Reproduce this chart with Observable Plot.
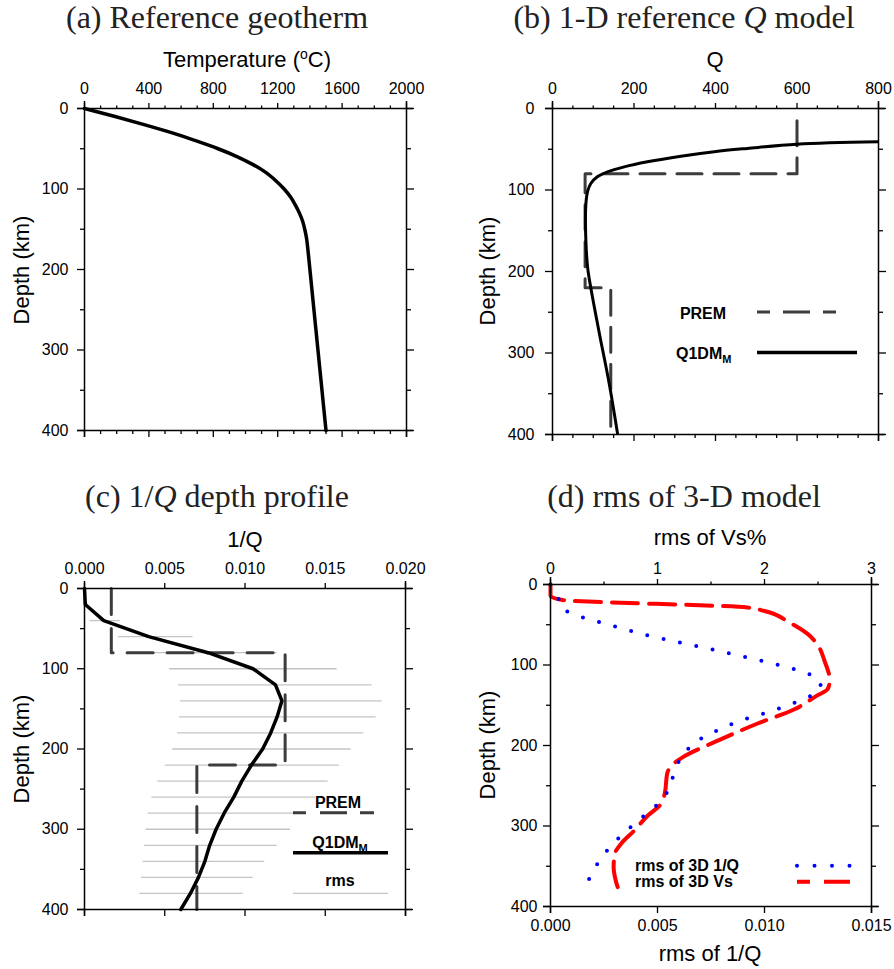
<!DOCTYPE html>
<html><head><meta charset="utf-8">
<script src="https://cdn.jsdelivr.net/npm/d3@7"></script>
<script src="https://cdn.jsdelivr.net/npm/@observablehq/plot@0.6"></script>
<style>
body{margin:0;background:#fff}
#root{position:relative;width:894px;height:969px;overflow:hidden;background:#fff}
#root svg.panel{position:absolute}
#overlay{position:absolute;left:0;top:0;pointer-events:none}
</style></head><body><div id="root"></div>
<script>
// ---------- DATA ----------
// (a) reference geotherm
const geoDepth = [0,10,20,30,40,50,60,70,80,90,100,110,120,130,140,150,160,180,200,250,300,350,400];
const geoTemp  = [0,190,370,540,690,830,950,1050,1130,1190,1240,1280,1310,1335,1355,1368,1378,1390,1400,1425,1450,1475,1500];

// (b) Q models
const q1dmDepth = [40.9,43.8,49,53,58.5,65.4,71.6,77.7,83.8,92,102,116.6,145,194,220,276,337,400];
const q1dmQ     = [800,600,478,397,315,233,176,135,110,94,86,82,81,86,94,115,139,160];
const premQDepth = [15,80,80,220,220,400];
const premQ      = [600,600,80,80,143,143];

// (c) 1/Q profile
const invDepth = [0,20,40,60,80,100,120,140,160,180,200,220,240,260,280,300,320,340,360,380,400];
const invQ     = [0,0.00005,0.0012,0.0040,0.0077,0.0105,0.0119,0.0123,0.0120,0.0116,0.0111,0.0104,0.0098,0.0093,0.0087,0.0082,0.0078,0.0075,0.0071,0.0066,0.0060];
const premInvDepth = [0,80,80,220,220,400];
const premInv      = [0.00167,0.00167,0.0125,0.0125,0.0070,0.0070];
const rmsDepth = [40,60,80,100,120,140,160,180,200,220,240,260,280,300,320,340,360,380];
const rmsLo = [0.00035,0.00212,0.0040,0.0053,0.00586,0.00597,0.00593,0.0058,0.0055,0.00503,0.00457,0.0042,0.00396,0.00384,0.00374,0.00365,0.00355,0.00345];
const rmsHi = [0.00222,0.00676,0.0120,0.01574,0.01792,0.01854,0.01817,0.0174,0.01661,0.01588,0.01518,0.0144,0.0134,0.01284,0.0120,0.01123,0.01051,0.00988];

// (d) rms of 3-D model
const rmsQDepth = [0,12,31,39,62,80,99,110,123,135,143,151,158,164,170,179,187,198,214,233,254,271,284,298,312,327,343,362,381];
const rmsQ      = [0,0.0003,0.00054,0.00127,0.00432,0.00743,0.01054,0.01203,0.01265,0.01247,0.01177,0.01102,0.01024,0.00951,0.00874,0.0080,0.00729,0.00665,0.00609,0.00578,0.00556,0.00511,0.00451,0.00389,0.0033,0.00275,0.00228,0.00187,0.00154];
const rmsVsDepth = [0,14,19,28.6,33,47,61,78,94.5,119,130,138,155,173,193,215,225,235,258,273,287,306,322,335,351,368,387];
const rmsVs      = [0,0,0.1,1.84,2.0,2.23,2.40,2.51,2.56,2.61,2.59,2.49,2.28,1.93,1.58,1.23,1.13,1.09,1.07,1.03,0.91,0.78,0.66,0.60,0.59,0.61,0.66];

// ticks
const depthTicks = [0,100,200,300,400];
const depthMinor = [50,150,250,350];
const tempTicks = [0,400,800,1200,1600,2000];
const qTicks = [0,200,400,600,800];
const invTicks = [0,0.005,0.010,0.015,0.020];
const vsTicks = [0,1,2,3];
const vsMinor = [0.5,1.5,2.5];
const rmsInvTicks = [0,0.005,0.010,0.015];
const VS_PER_INVQ = 200; // top axis (Vs %) vs bottom axis (1/Q)

// ---------- BUILD ----------
const zipPts = (ys, xs) => ys.map((d, i) => ({d, v: xs[i]}));
const root = document.getElementById("root");
const FONT = "'Liberation Sans', Arial, Helvetica, sans-serif";
const blank = () => "";

function frameRules(xDom, yDom) {
  return [
    Plot.ruleX(xDom, {stroke: "#000", strokeWidth: 1.5, insetTop: -7, insetBottom: -7}),
    Plot.ruleY(yDom, {stroke: "#000", strokeWidth: 1.5, insetLeft: -7, insetRight: -7})
  ];
}
function yAxes(pad) {
  return [
    Plot.axisY({anchor: "left", ticks: depthTicks, tickSize: 7, tickPadding: pad, tickFormat: d3.format("d"), label: null, fontSize: 16, strokeWidth: 1.3}),
    Plot.axisY({anchor: "left", ticks: depthMinor, tickSize: 4, tickFormat: blank, label: null, strokeWidth: 1.3}),
    Plot.axisY({anchor: "right", ticks: depthTicks, tickSize: 7, tickFormat: blank, label: null, strokeWidth: 1.3}),
    Plot.axisY({anchor: "right", ticks: depthMinor, tickSize: 4, tickFormat: blank, label: null, strokeWidth: 1.3})
  ];
}
function xAxes(major, minor, fmt, topPad) {
  const a = [
    Plot.axisX({anchor: "top", ticks: major, tickSize: 6, tickPadding: topPad, tickFormat: fmt, label: null, fontSize: 16, strokeWidth: 1.3}),
    Plot.axisX({anchor: "bottom", ticks: major, tickSize: 7, tickFormat: blank, label: null, strokeWidth: 1.3})
  ];
  if (minor && minor.length) {
    a.push(Plot.axisX({anchor: "top", ticks: minor, tickSize: 3.5, tickFormat: blank, label: null, strokeWidth: 1.3}));
    a.push(Plot.axisX({anchor: "bottom", ticks: minor, tickSize: 4, tickFormat: blank, label: null, strokeWidth: 1.3}));
  }
  return a;
}
function place(svg, left, top) {
  svg.classList.add("panel");
  svg.style.left = left + "px";
  svg.style.top = top + "px";
  svg.style.overflow = "visible";
  root.appendChild(svg);
}
const baseStyle = {fontFamily: FONT, fontSize: "16px", background: "transparent", color: "#000", overflow: "visible"};

// (a)
const tempMinor = d3.range(0, 2001, 100).filter(v => !tempTicks.includes(v));
place(Plot.plot({
  width: 447, height: 460, marginLeft: 84, marginRight: 41, marginTop: 108, marginBottom: 30,
  style: baseStyle,
  x: {domain: [0, 2000]}, y: {domain: [0, 400], reverse: true},
  marks: [
    Plot.line(zipPts(geoDepth, geoTemp), {x: "v", y: "d", stroke: "#000", strokeWidth: 3.5, curve: "monotone-y"}),
    ...frameRules([0, 2000], [0, 400]),
    ...yAxes(9),
    ...xAxes(tempTicks, tempMinor, d3.format("d"), 9)
  ]
}), 0, 0);

// (b)
const qMinor = d3.range(0, 801, 50).filter(v => !qTicks.includes(v));
place(Plot.plot({
  width: 447, height: 460, marginLeft: 105, marginRight: 16, marginTop: 108, marginBottom: 26,
  style: baseStyle,
  x: {domain: [0, 800]}, y: {domain: [0, 400], reverse: true},
  marks: [
    Plot.line(zipPts(premQDepth, premQ), {x: "v", y: "d", stroke: "#3c3c3c", strokeWidth: 3, strokeDasharray: "25,12"}),
    Plot.line(zipPts(q1dmDepth, q1dmQ), {x: "v", y: "d", stroke: "#000", strokeWidth: 3, curve: "catmull-rom", clip: true}),
    ...frameRules([0, 800], [0, 400]),
    ...yAxes(11),
    ...xAxes(qTicks, qMinor, d3.format("d"), 9)
  ]
}), 447, 0);

// (c)
const rmsBars = rmsDepth.map((d, i) => ({d, lo: rmsLo[i], hi: rmsHi[i]}));
place(Plot.plot({
  width: 447, height: 489, marginLeft: 84, marginRight: 42, marginTop: 108, marginBottom: 60,
  style: baseStyle,
  x: {domain: [0, 0.02]}, y: {domain: [0, 400], reverse: true},
  marks: [
    Plot.ruleY(rmsBars, {y: "d", x1: "lo", x2: "hi", stroke: "#c4c4c4", strokeWidth: 1.3}),
    Plot.line(zipPts(premInvDepth, premInv), {x: "v", y: "d", stroke: "#3c3c3c", strokeWidth: 3, strokeDasharray: "26,14"}),
    Plot.line(zipPts(invDepth, invQ), {x: "v", y: "d", stroke: "#000", strokeWidth: 3.5}),
    ...frameRules([0, 0.02], [0, 400]),
    ...yAxes(9),
    ...xAxes(invTicks, [], d3.format(".3f"), 9)
  ]
}), 0, 480);

// (d)
place(Plot.plot({
  width: 447, height: 489, marginLeft: 103, marginRight: 23, marginTop: 104, marginBottom: 63,
  style: baseStyle,
  x: {domain: [0, 0.015]}, y: {domain: [0, 400], reverse: true},
  marks: [
    Plot.line(zipPts(rmsVsDepth, rmsVs), {x: d => d.v / VS_PER_INVQ, y: "d", stroke: "#ff0000", strokeWidth: 4, strokeDasharray: "26,11", curve: "monotone-y"}),
    Plot.line(zipPts(rmsQDepth, rmsQ), {x: "v", y: "d", stroke: "#0000ff", strokeWidth: 4, strokeDasharray: "0,16.7", strokeLinecap: "round"}),
    ...frameRules([0, 0.015], [0, 400]),
    ...yAxes(6),
    Plot.axisX({anchor: "top", ticks: vsTicks.map(v => v / VS_PER_INVQ), tickSize: 6, tickPadding: 5, tickFormat: d => String(Math.round(d * VS_PER_INVQ)), label: null, fontSize: 16, strokeWidth: 1.3}),
    Plot.axisX({anchor: "top", ticks: vsMinor.map(v => v / VS_PER_INVQ), tickSize: 3.5, tickFormat: blank, label: null, strokeWidth: 1.3}),
    Plot.axisX({anchor: "bottom", ticks: rmsInvTicks, tickSize: 7, tickPadding: 6, tickFormat: d3.format(".3f"), label: null, fontSize: 16, strokeWidth: 1.3})
  ]
}), 447, 480);

// ---------- TITLES, LABELS, LEGENDS ----------
const SERIF = "'Liberation Serif','Times New Roman',serif";
root.insertAdjacentHTML("beforeend", `
<svg id="overlay" width="894" height="969" font-family="${FONT}">
  <g font-family="${SERIF}" font-size="32" fill="#222" text-anchor="middle">
    <text x="217" y="28">(a) Reference geotherm</text>
    <text x="684" y="28">(b) 1-D reference <tspan font-style="italic">Q</tspan> model</text>
    <text x="217" y="507">(c) 1/<tspan font-style="italic">Q</tspan> depth profile</text>
    <text x="684" y="507">(d) rms of 3-D model</text>
  </g>
  <g font-size="22" fill="#000" text-anchor="middle">
    <text x="247" y="67">Temperature (<tspan font-size="14" dy="-8">o</tspan><tspan dy="8">C)</tspan></text>
    <text x="715" y="67">Q</text>
    <text x="245" y="547">1/Q</text>
    <text x="710" y="545">rms of Vs%</text>
    <text x="710" y="961">rms of 1/Q</text>
    <text transform="translate(29,270) rotate(-90)">Depth (km)</text>
    <text transform="translate(495,271) rotate(-90)">Depth (km)</text>
    <text transform="translate(29,749) rotate(-90)">Depth (km)</text>
    <text transform="translate(495,745) rotate(-90)">Depth (km)</text>
  </g>
  <g font-size="16" font-weight="bold" fill="#000">
    <text x="703" y="319" text-anchor="middle">PREM</text>
    <text x="676" y="359">Q1DM<tspan font-size="11" dy="4">M</tspan></text>
    <text x="338" y="808" text-anchor="middle">PREM</text>
    <text x="340" y="848" text-anchor="middle">Q1DM<tspan font-size="11" dy="4">M</tspan></text>
    <text x="340" y="886" text-anchor="middle">rms</text>
    <text x="635" y="871">rms of 3D 1/Q</text>
    <text x="635" y="887">rms of 3D Vs</text>
  </g>
  <line x1="757" x2="852" y1="312" y2="312" stroke="#3c3c3c" stroke-width="3" stroke-dasharray="13,13,27"/>
  <line x1="757" x2="857" y1="352.5" y2="352.5" stroke="#000" stroke-width="3.5"/>
  <line x1="293" x2="387" y1="812.7" y2="812.7" stroke="#3c3c3c" stroke-width="3" stroke-dasharray="13,14,27"/>
  <line x1="293" x2="388" y1="852.7" y2="852.7" stroke="#000" stroke-width="3.5"/>
  <line x1="293" x2="388" y1="893.3" y2="893.3" stroke="#c4c4c4" stroke-width="1.3"/>
  <line x1="797" x2="851" y1="865.7" y2="865.7" stroke="#0000ff" stroke-width="4" stroke-dasharray="0,17.5" stroke-linecap="round"/>
  <line x1="797" x2="850" y1="881.7" y2="881.7" stroke="#ff0000" stroke-width="4" stroke-dasharray="13,14,30"/>
</svg>`);
</script></body></html>
